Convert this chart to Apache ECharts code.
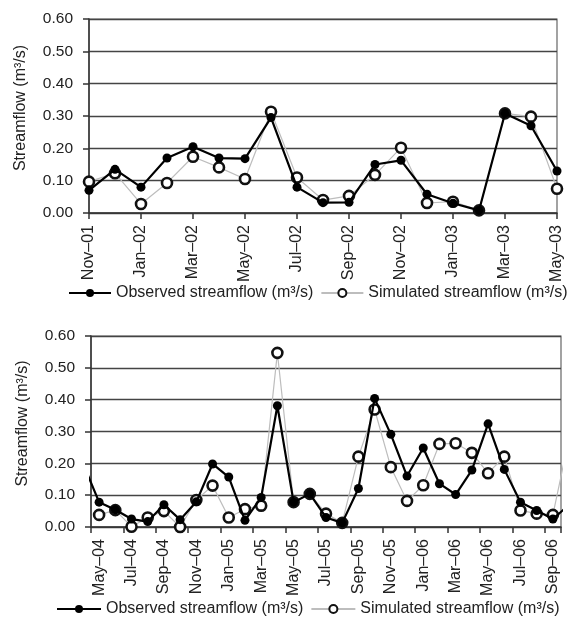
<!DOCTYPE html>
<html>
<head>
<meta charset="utf-8">
<script src="https://cdn.jsdelivr.net/npm/echarts@6/dist/echarts.min.js"></script>
<style>
html,body{margin:0;padding:0;background:#fff;}
#chart{width:572px;height:622px;}
</style>
</head>
<body>
<div id="chart"></div>
<script>
// ---- Data ----
var topMonths = ['Nov–01','Dec–01','Jan–02','Feb–02','Mar–02','Apr–02','May–02','Jun–02','Jul–02','Aug–02',
  'Sep–02','Oct–02','Nov–02','Dec–02','Jan–03','Feb–03','Mar–03','Apr–03','May–03'];
var topObserved  = [0.070,0.135,0.080,0.170,0.205,0.170,0.168,0.295,0.080,0.032,0.033,0.150,0.163,0.058,0.030,0.008,0.308,0.270,0.130];
var topSimulated = [0.097,0.123,0.028,0.093,0.174,0.141,0.105,0.313,0.110,0.040,0.053,0.118,0.202,0.031,0.035,0.008,0.308,0.298,0.075];

// axis categories of the lower chart (May-04 ... Sep-06)
var bottomMonths = ['May–04','Jun–04','Jul–04','Aug–04','Sep–04','Oct–04','Nov–04','Dec–04','Jan–05','Feb–05',
  'Mar–05','Apr–05','May–05','Jun–05','Jul–05','Aug–05','Sep–05','Oct–05','Nov–05','Dec–05',
  'Jan–06','Feb–06','Mar–06','Apr–06','May–06','Jun–06','Jul–06','Aug–06','Sep–06'];
// series of the lower chart run one month beyond the axis on both sides (Apr-04 ... Oct-06)
var bottomObserved  = [0.200,0.078,0.054,0.025,0.017,0.070,0.023,0.079,0.198,0.157,0.021,0.093,0.381,0.078,0.104,0.030,
  0.013,0.121,0.404,0.291,0.160,0.248,0.136,0.102,0.179,0.324,0.181,0.078,0.052,0.025,0.070];
var bottomSimulated = [null,0.038,0.053,0.001,0.030,0.050,0.000,0.085,0.130,0.030,0.056,0.067,0.547,0.078,0.104,0.042,
  0.013,0.221,0.369,0.188,0.082,0.131,0.261,0.263,0.233,0.169,0.221,0.052,0.042,0.038,0.280];
var yTicks = [0, 0.1, 0.2, 0.3, 0.4, 0.5, 0.6];

var obsName = 'Observed streamflow (m³/s)';
var simName = 'Simulated streamflow (m³/s)';

// ---- Build ----
var FONT = "'Liberation Sans', Arial, Helvetica, sans-serif";
var TXT = '#222';
var AX = '#333';

function toXY(arr){ return arr.map(function(v,i){ return [i - 0.5, v]; }); }

function yAxisCfg(grid){
  return {
    gridIndex: grid, type: 'value', min: yTicks[0], max: yTicks[yTicks.length-1], interval: yTicks[1]-yTicks[0],
    name: 'Streamflow (m³/s)', nameLocation: 'middle', nameGap: 60,
    nameTextStyle: {fontFamily: FONT, fontSize: 16, color: TXT, padding: [0,0,0,16]},
    axisLine: {show: true, lineStyle: {color: AX, width: 1.5}},
    axisTick: {show: true, length: 6, lineStyle: {color: AX, width: 1.5}},
    axisLabel: {fontFamily: FONT, fontSize: 15.5, color: TXT, margin: 16, formatter: function(v){ return v.toFixed(2); }},
    splitLine: {show: true, lineStyle: {color: '#444', width: 1.4}}
  };
}
function catAxis(grid, data, gap){
  return {
    gridIndex: grid, type: 'category', data: data, boundaryGap: gap,
    axisLine: {show: true, lineStyle: {color: AX, width: 1.5}},
    axisTick: {show: true, interval: 1, length: 6, lineStyle: {color: AX, width: 1.5}},
    axisLabel: {interval: 1, rotate: 90, fontFamily: FONT, fontSize: 16, color: TXT, margin: 12},
    splitLine: {show: false}
  };
}
function simSeries(xi, yi, data){
  return {name: simName, type: 'line', xAxisIndex: xi, yAxisIndex: yi, data: data, z: 2,
    symbol: 'circle', symbolSize: 10, showAllSymbol: true, clip: true, connectNulls: false,
    itemStyle: {color: '#fff', borderColor: '#111', borderWidth: 2.6},
    lineStyle: {color: '#bdbdbd', width: 1.2}, emphasis: {disabled: true}, animation: false};
}
function obsSeries(xi, yi, data){
  return {name: obsName, type: 'line', xAxisIndex: xi, yAxisIndex: yi, data: data, z: 3,
    symbol: 'circle', symbolSize: 9, showAllSymbol: true, clip: true,
    itemStyle: {color: '#000'},
    lineStyle: {color: '#000', width: 2.2}, emphasis: {disabled: true}, animation: false};
}
function legendCfg(top, left, iw){
  return {top: top, left: left, width: 560, itemWidth: iw, itemHeight: 10, itemGap: 7,
    data: [obsName, simName], selectedMode: false,
    textStyle: {fontFamily: FONT, fontSize: 16, color: TXT}};
}

var chart = echarts.init(document.getElementById('chart'), null, {renderer: 'canvas'});
chart.setOption({
  animation: false,
  backgroundColor: '#fff',
  textStyle: {fontFamily: FONT},
  grid: [
    {left: 89, right: 15, top: 19, height: 194, show: true, borderColor: '#666', borderWidth: 1.2},
    {left: 91, right: 11, top: 336, height: 191, show: true, borderColor: '#666', borderWidth: 1.2}
  ],
  legend: [legendCfg(280, 63, 42), legendCfg(596, 51, 44)],
  xAxis: [
    catAxis(0, topMonths, false),
    catAxis(1, bottomMonths, true),
    {gridIndex: 1, type: 'value', min: 0, max: bottomMonths.length, show: false}
  ],
  yAxis: [yAxisCfg(0), yAxisCfg(1)],
  series: [
    simSeries(0, 0, topSimulated),
    obsSeries(0, 0, topObserved),
    simSeries(2, 1, toXY(bottomSimulated)),
    obsSeries(2, 1, toXY(bottomObserved))
  ]
});
</script>
</body>
</html>
